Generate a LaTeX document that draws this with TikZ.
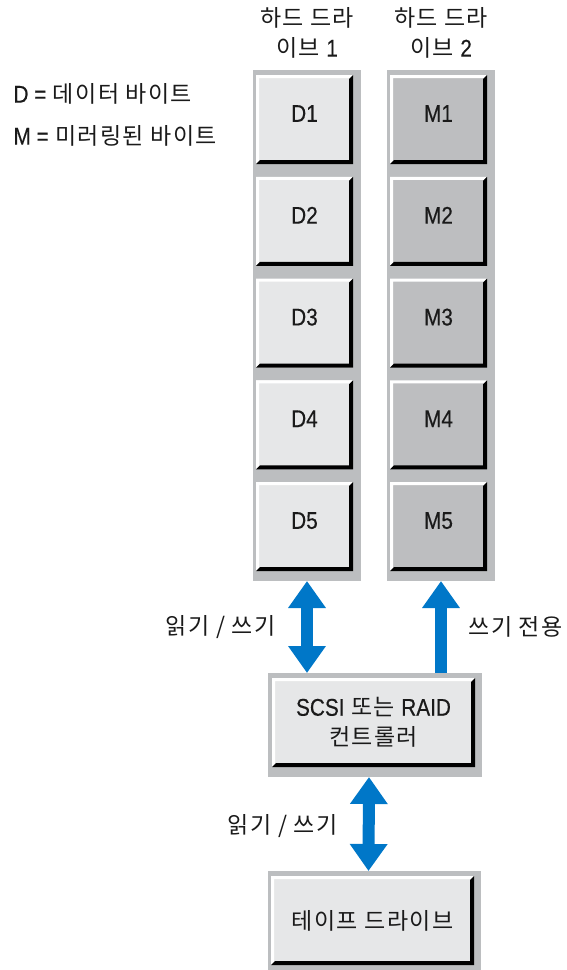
\documentclass[tikz,border=0pt]{standalone}
\usepackage{fontspec}
\setmainfont{Noto Sans CJK KR}[LetterSpace=6]
\newfontfamily\lat[FakeStretch=0.86,Scale=1.05,FakeBold=0.4]{Liberation Sans}
\usepackage{tikz}
\usetikzlibrary{positioning,arrows.meta}
\definecolor{ink}{HTML}{1A1A1A}
\definecolor{frame}{HTML}{BCBEC0}
\definecolor{datafill}{HTML}{E6E7E8}
\definecolor{mirrorfill}{HTML}{BDBEC0}
\definecolor{flowblue}{HTML}{0077C8}
\tikzset{
  frm/.style={fill=frame, inner sep=0pt, outer sep=0pt},
  tile/.style={fill=#1, inner sep=0pt, outer sep=0pt, minimum width=97pt, minimum height=89pt,
    text=ink, text depth=12pt},
  tile/.default=datafill,
  unit/.style={fill=datafill, inner sep=0pt, outer sep=0pt, minimum width=203pt, minimum height=89pt,
    text=ink, align=center},
  both/.style={{Triangle[length=27pt,width=36pt]}-{Triangle[length=27pt,width=36pt]},
    line width=12pt, color=flowblue},
  up/.style={-{Triangle[length=27pt,width=36pt]}, line width=12pt, color=flowblue},
  lab/.style={text=ink},
}

\begin{document}
\begin{tikzpicture}[x=1pt,y=-1pt,font=\fontsize{23}{30}\selectfont]
  \useasboundingbox (0,0) rectangle (567,970);
  % legend
  \node[lab,anchor=west] (keyd) at (10,94) {{\lat D =} 데이터 바이트};
  \node[lab,anchor=west] (keym) at (10,136) {{\lat M =} 미러링된 바이트};
  % the two drives, five blocks each
  \node[frm,minimum width=108pt,minimum height=511pt] (col1) at (307,325.5) {};
  \node[frm,minimum width=108pt,minimum height=511pt] (col2) at (441,325.5) {};
  \node[lab,align=center] (hd1) at (col1.north |- 0,33) {하드 드라\\이브 {\lat 1}};
  \node[lab,align=center] (hd2) at (col2.north |- 0,33) {하드 드라\\이브 {\lat 2}};
  \foreach \i in {1,...,5} {
    \pgfmathsetmacro\y{119.5+(\i-1)*101.75}
    \node[tile] (d\i) at (304.5,\y) {\lat D\i};
    \node[tile=mirrorfill] (m\i) at (438.5,\y) {\lat M\i};
  }
  % controller and tape drive
  \node[frm,minimum width=214pt,minimum height=104pt] (ctrl) at (375,725) {};
  \node[unit] (ctrlin) at (373.5,722.5) {{\lat SCSI} 또는 {\lat RAID}\\컨트롤러};
  \node[frm,minimum width=213pt,minimum height=99pt] (tape) at (374.5,920.5) {};
  \node[unit] (tapein) at (372.5,920.5) {테이프 드라이브};
  % bevel edges
  \foreach \n in {d1,d2,d3,d4,d5,m1,m2,m3,m4,m5,ctrlin,tapein} {
    \fill[white] (\n.south west) -- (\n.north west) -- (\n.north east)
      -- ([shift={(-3,3)}]\n.north east) -- ([shift={(3,3)}]\n.north west)
      -- ([shift={(3,-3)}]\n.south west) -- cycle;
    \fill[black] (\n.north east) -- (\n.south east) -- (\n.south west)
      -- ([shift={(4,-4)}]\n.south west) -- ([shift={(-4,-4)}]\n.south east)
      -- ([shift={(-4,4)}]\n.north east) -- cycle;
  }
  % data paths
  \draw[both] (col1.south) -- (col1.south |- ctrl.north);
  \draw[up] (col2.south |- ctrl.north) -- (col2.south);
  \draw[both] ([xshift=-6pt]ctrl.south) -- ([xshift=-6pt]tape.north);
  \node[lab,anchor=east] (rw1) at (279,627) {읽기 / 쓰기};
  \node[lab,anchor=west] (wo) at (465,627) {쓰기 전용};
  \node[lab,anchor=east] (rw2) at (341,826) {읽기 / 쓰기};
\end{tikzpicture}
\end{document}
